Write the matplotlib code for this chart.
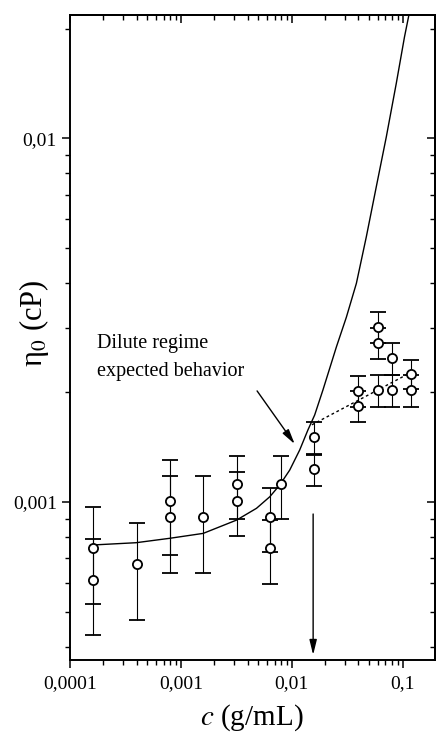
import numpy as np
import matplotlib
matplotlib.use("Agg")
import matplotlib.pyplot as plt
from matplotlib.ticker import FixedLocator, FixedFormatter, LogLocator, NullFormatter

plt.rcParams['font.family'] = ['Liberation Serif', 'DejaVu Serif']
plt.rcParams['mathtext.fontset'] = 'stix'

# measured points: concentration (g/mL), zero-shear viscosity (cP), error bar
conc = [0.00016, 0.00016, 0.0004, 0.0008, 0.0008, 0.0016, 0.0032, 0.0032,
        0.0064, 0.0064, 0.008, 0.016, 0.016, 0.04, 0.04, 0.06, 0.06, 0.06,
        0.08, 0.08, 0.12, 0.12]
eta0 = [7.46e-4, 6.1e-4, 6.75e-4, 1.009e-3, 9.1e-4, 9.1e-4, 1.118e-3, 1.009e-3,
        9.1e-4, 7.46e-4, 1.118e-3, 1.505e-3, 1.23e-3, 2.02e-3, 1.835e-3, 3.03e-3,
        2.74e-3, 2.03e-3, 2.48e-3, 2.03e-3, 2.25e-3, 2.03e-3]
eta0_err = [2.2e-4, 1.8e-4, 2.0e-4, 2.95e-4, 2.7e-4, 2.7e-4, 2.2e-4, 2.0e-4,
            1.82e-4, 1.49e-4, 2.2e-4, 1.5e-4, 1.2e-4, 2.0e-4, 1.8e-4, 3.0e-4,
            2.75e-4, 2.0e-4, 2.5e-4, 2.0e-4, 2.05e-4, 2.0e-4]

# dilute regime curve
curve_c = [1.61e-4, 3.94e-4, 7.96e-4, 1.59e-3, 3.18e-3, 4.81e-3, 6.34e-3,
           7.8e-3, 9.59e-3, 1.18e-2, 1.40e-2, 1.61e-2, 1.91e-2, 2.53e-2,
           3.11e-2, 3.83e-2, 4.71e-2, 5.79e-2, 7.13e-2, 8.77e-2, 0.104, 0.114]
curve_eta = [7.62e-4, 7.73e-4, 7.95e-4, 8.2e-4, 8.92e-4, 9.61e-4, 1.034e-3,
             1.114e-3, 1.224e-3, 1.39e-3, 1.578e-3, 1.734e-3, 2.03e-3, 2.67e-3,
             3.22e-3, 3.99e-3, 5.36e-3, 7.35e-3, 1.008e-2, 1.414e-2, 1.897e-2,
             2.18e-2]

# dotted trend above overlap
dot_c = [0.0152, 0.1156]
dot_eta = [1.63e-3, 2.26e-3]

c_star = 0.0156

xticks = [1e-4, 1e-3, 1e-2, 1e-1]
xtick_labels = ["0,0001", "0,001", "0,01", "0,1"]
yticks = [1e-3, 1e-2]
ytick_labels = ["0,001", "0,01"]

fig = plt.figure(figsize=(4.36, 7.35), dpi=100)
ax = fig.add_axes([70 / 436, 1 - 660 / 735, 364.5 / 436, 645 / 735])
ax.set_xscale('log')
ax.set_yscale('log')
ax.set_xlim(1e-4, 0.194)
ax.set_ylim(3.68e-4, 0.0218)

ax.plot(curve_c, curve_eta, color='black', lw=1.0, zorder=2)
ax.plot(dot_c, dot_eta, color='black', lw=1.0, ls=(0, (2, 2)), zorder=2)

ax.errorbar(conc, eta0, yerr=eta0_err, fmt='o', mfc='white', mec='black',
            mew=1.3, ms=6.6, ecolor='black', elinewidth=0.8, capsize=5.5,
            capthick=0.8, zorder=3)

# arrows
ax.annotate('', xy=(c_star, 3.8e-4), xytext=(c_star, 9.27e-4),
            arrowprops=dict(arrowstyle='-|>,head_length=0.9,head_width=0.22',
                            color='black', lw=1.0, shrinkA=0, shrinkB=0))
ax.annotate('', xy=(1.064e-2, 1.443e-3), xytext=(4.87e-3, 2.02e-3),
            arrowprops=dict(arrowstyle='-|>,head_length=0.9,head_width=0.22',
                            color='black', lw=1.0, shrinkA=0, shrinkB=0))

ax.text(0.074, 0.490, "Dilute regime", transform=ax.transAxes,
        fontsize=14.5, ha='left', va='center')
ax.text(0.074, 0.447, "expected behavior", transform=ax.transAxes,
        fontsize=14.5, ha='left', va='center')

# ticks
ax.xaxis.set_major_locator(FixedLocator(xticks))
ax.xaxis.set_major_formatter(FixedFormatter(xtick_labels))
ax.yaxis.set_major_locator(FixedLocator(yticks))
ax.yaxis.set_major_formatter(FixedFormatter(ytick_labels))
ax.xaxis.set_minor_locator(LogLocator(base=10, subs=np.arange(2, 10), numticks=20))
ax.yaxis.set_minor_locator(LogLocator(base=10, subs=np.arange(2, 10), numticks=20))
ax.xaxis.set_minor_formatter(NullFormatter())
ax.yaxis.set_minor_formatter(NullFormatter())
ax.tick_params(which='major', direction='out', length=6, width=1.1,
               labelsize=14, top=False, right=False)
ax.tick_params(which='minor', direction='out', length=3.5, width=1.0,
               top=False, right=False)
ax.tick_params(axis='x', which='major', pad=5)

for loc in ['top', 'right']:
    sec = ax.secondary_xaxis('top') if loc == 'top' else ax.secondary_yaxis('right')
    axis = sec.xaxis if loc == 'top' else sec.yaxis
    axis.set_major_locator(FixedLocator(xticks if loc == 'top' else yticks))
    axis.set_minor_locator(LogLocator(base=10, subs=np.arange(2, 10), numticks=20))
    axis.set_major_formatter(NullFormatter())
    axis.set_minor_formatter(NullFormatter())
    sec.tick_params(which='major', direction='in', length=6, width=1.1)
    sec.tick_params(which='minor', direction='in', length=3.5, width=1.0)
    for sp in sec.spines.values():
        sp.set_linewidth(1.4)

for sp in ax.spines.values():
    sp.set_linewidth(1.4)

ax.set_xlabel("$c$ (g/mL)", fontsize=21, va='center')
ax.xaxis.set_label_coords(0.5, -0.089)
ax.set_ylabel("η$_0$ (cP)", fontsize=22, va='center')
ax.yaxis.set_label_coords(-0.099, 0.522)

fig.savefig("out.png", dpi=100)
